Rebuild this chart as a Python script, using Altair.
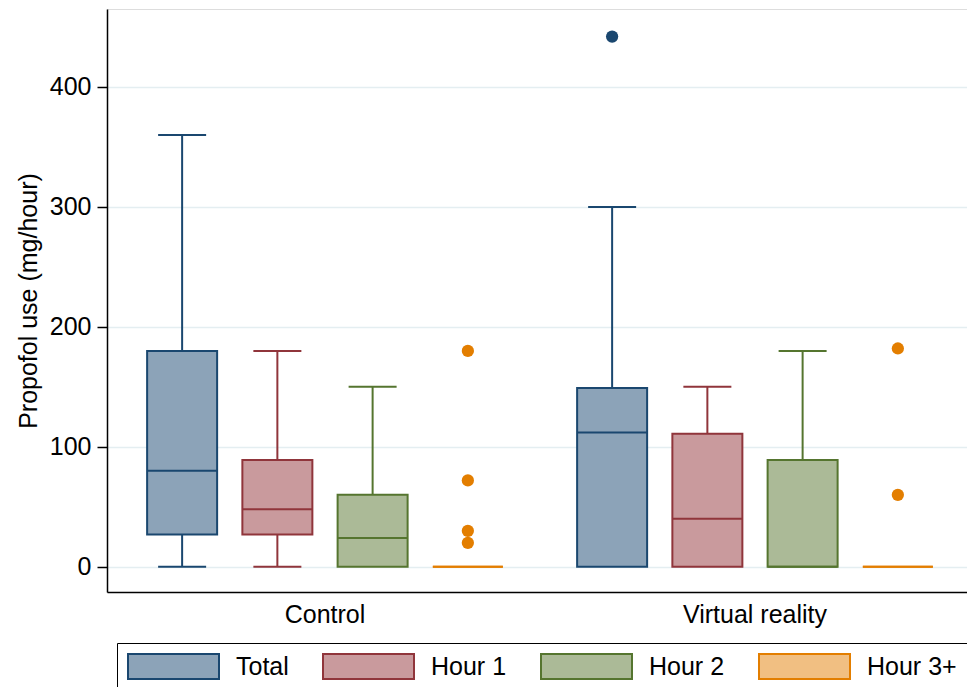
import altair as alt
import pandas as pd

groups = ["Control", "Virtual reality"]
series = ["Total", "Hour 1", "Hour 2", "Hour 3+"]

lower_whisker = [[0, 0, 0, 0], [0, 0, 0, 0]]
q1 = [[27, 27, 0, 0], [0, 0, 0, 0]]
median = [[80, 48, 24, 0], [112, 40, 0, 0]]
q3 = [[180, 89, 60, 0], [149, 111, 89, 0]]
upper_whisker = [[360, 180, 150, 0], [300, 150, 180, 0]]

outlier_group = ["Control", "Control", "Control", "Control",
                 "Virtual reality", "Virtual reality", "Virtual reality"]
outlier_series = ["Hour 3+", "Hour 3+", "Hour 3+", "Hour 3+",
                  "Total", "Hour 3+", "Hour 3+"]
outlier_value = [180, 72, 30, 20, 442, 182, 60]

line_colors = ["#1a476f", "#90353b", "#55752f", "#e37e00"]
fill_colors = ["#8ca3b8", "#c99a9d", "#abba97", "#f1bf82"]

FONT = "Liberation Sans"
Y_TITLE = "Propofol use (mg/hour)"

box_rows, whisk_rows, cap_rows = [], [], []
for gi, g in enumerate(groups):
    for si, s in enumerate(series):
        lo, a, m, b, hi = (lower_whisker[gi][si], q1[gi][si], median[gi][si],
                           q3[gi][si], upper_whisker[gi][si])
        box_rows.append(dict(group=g, series=s, q1=a, med=m, q3=b))
        if hi > b:
            whisk_rows.append(dict(group=g, series=s, ya=b, yb=hi))
            cap_rows.append(dict(group=g, series=s, cap=hi))
        if lo < a:
            whisk_rows.append(dict(group=g, series=s, ya=lo, yb=a))
            cap_rows.append(dict(group=g, series=s, cap=lo))
boxes = pd.DataFrame(box_rows)
whiskers = pd.DataFrame(whisk_rows)
caps = pd.DataFrame(cap_rows)
outliers = pd.DataFrame(dict(group=outlier_group, series=outlier_series,
                             value=outlier_value))

x_enc = alt.X("group:N", sort=groups,
              scale=alt.Scale(paddingInner=0.114, paddingOuter=0.057, align=0.561),
              axis=alt.Axis(title=None, ticks=False, labelAngle=0, labelFontSize=25,
                            labelPadding=10, labelColor="black", domainColor="black",
                            domainWidth=1.5, grid=False, labelFont=FONT))
xo_enc = alt.XOffset("series:N", sort=series,
                     scale=alt.Scale(paddingInner=0, paddingOuter=0))

yscale = alt.Scale(domain=[-21, 465], nice=False, zero=False)
yaxis = alt.Axis(values=[0, 100, 200, 300, 400], title=Y_TITLE, titleFontSize=25,
                 titleFontWeight="normal", titleFont=FONT, titleColor="black",
                 titlePadding=8, labelFontSize=25, labelFont=FONT, labelColor="black",
                 labelPadding=6, tickSize=10, tickColor="black", tickWidth=1.5,
                 domainColor="black", domainWidth=1.5, grid=True,
                 gridColor="#e4eef1", gridWidth=1.5)


def Y(field):
    return alt.Y(f"{field}:Q", scale=yscale, axis=yaxis, title=Y_TITLE)


legend = alt.Legend(
    title=None, orient="none", legendX=10, legendY=634, direction="horizontal",
    columns=4, strokeColor="black", fillColor="white", padding=10,
    symbolType="M-1,-0.275L1,-0.275L1,0.275L-1,0.275Z", symbolSize=8281,
    clipHeight=27, symbolStrokeWidth=2, labelFontSize=25, labelFont=FONT,
    labelColor="black", labelOffset=16, columnPadding=33, labelLimit=300)

# line colours for whiskers, medians, caps and outliers (same mapping, listed in
# reverse so this scale stays separate from the legend's fill/stroke scales)
color_line = alt.Color("series:N", sort=series,
                       scale=alt.Scale(domain=series[::-1], range=line_colors[::-1]),
                       legend=None)

whisker_layer = alt.Chart(whiskers).mark_rule(strokeWidth=2).encode(
    x=x_enc, xOffset=xo_enc, y=Y("ya"), y2="yb", color=color_line)

box_layer = alt.Chart(boxes).mark_bar(size=70, strokeWidth=2, opacity=1).encode(
    x=x_enc, xOffset=xo_enc, y=Y("q1"), y2="q3",
    fill=alt.Fill("series:N", sort=series,
                  scale=alt.Scale(domain=series, range=fill_colors),
                  legend=legend),
    stroke=alt.Stroke("series:N", sort=series,
                      scale=alt.Scale(domain=series, range=line_colors),
                      legend=legend))

median_layer = alt.Chart(boxes).mark_tick(size=70, thickness=2, opacity=1).encode(
    x=x_enc, xOffset=xo_enc, y=Y("med"), color=color_line)

cap_layer = alt.Chart(caps).mark_tick(size=48, thickness=2, opacity=1).encode(
    x=x_enc, xOffset=xo_enc, y=Y("cap"), color=color_line)

point_layer = alt.Chart(outliers).mark_circle(size=150, opacity=1).encode(
    x=x_enc, xOffset=xo_enc, y=Y("value"), color=color_line)

chart = alt.layer(whisker_layer, box_layer, median_layer, cap_layer, point_layer).properties(
    width=860, height=583,
    autosize=alt.AutoSizeParams(type="none"),
    padding={"left": 99, "top": 1, "right": 0, "bottom": 95},
).configure_view(stroke=None).configure_legend(strokeWidth=1.5).configure(font=FONT)

chart.save("out.html", embed_options={"renderer": "svg", "actions": False})
